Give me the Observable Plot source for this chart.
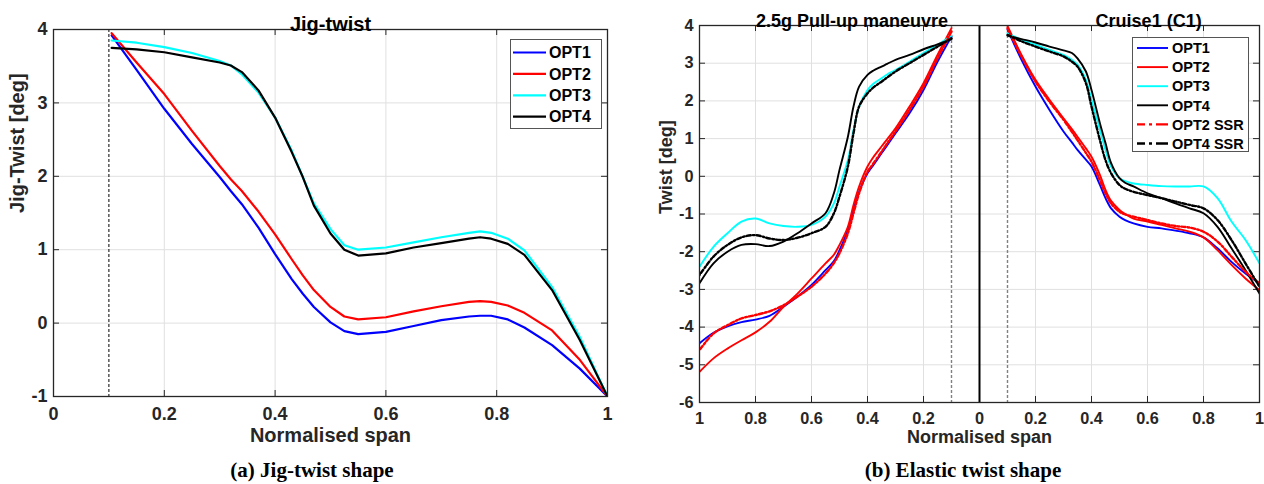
<!DOCTYPE html>
<html><head><meta charset="utf-8">
<script src="https://cdn.jsdelivr.net/npm/d3@7"></script>
<script src="https://cdn.jsdelivr.net/npm/@observablehq/plot@0.6"></script>
<style>
body{margin:0;background:#fff;}
#fig{position:relative;width:1264px;height:484px;overflow:hidden;background:#fff;font-family:"Liberation Sans",Arial,sans-serif;}
.panel{position:absolute;top:0;}
.panel svg{overflow:visible;max-width:none;}
.cap{position:absolute;font-family:"Liberation Serif","Times New Roman",serif;font-weight:bold;font-size:21px;transform:translate(-50%,-50%);white-space:nowrap;color:#000;}
.legend{position:absolute;background:#fff;border:1px solid #555;box-sizing:border-box;}
</style></head><body><div id="fig"></div>
<script>
// ---------- data ----------
const seriesNames = ["OPT1", "OPT2", "OPT3", "OPT4", "OPT2 SSR", "OPT4 SSR"];
const seriesColors = ["#0000ff", "#ff0000", "#00ffff", "#000000", "#ff0000", "#000000"];

// (a) Jig-twist
const spanJig = [0.105,0.15,0.2,0.25,0.3,0.32,0.34,0.37,0.4,0.43,0.45,0.47,0.5,0.525,0.55,0.6,0.65,0.7,0.75,0.77,0.79,0.82,0.85,0.9,0.95,1.0];
const jigOPT1 = [3.92,3.45,2.92,2.44,1.99,1.80,1.62,1.30,0.94,0.60,0.40,0.22,0.01,-0.11,-0.15,-0.12,-0.04,0.04,0.09,0.10,0.10,0.05,-0.06,-0.30,-0.62,-1.0];
const jigOPT2 = [3.95,3.55,3.12,2.62,2.14,1.96,1.80,1.52,1.21,0.87,0.65,0.45,0.22,0.09,0.05,0.08,0.16,0.23,0.29,0.30,0.29,0.24,0.14,-0.10,-0.50,-1.0];
const jigOPT3 = [3.85,3.82,3.76,3.68,3.57,3.51,3.39,3.14,2.80,2.35,1.99,1.63,1.28,1.06,1.00,1.03,1.10,1.17,1.23,1.25,1.23,1.15,0.99,0.49,-0.19,-1.0];
const jigOPT4 = [3.75,3.73,3.69,3.62,3.55,3.51,3.42,3.17,2.80,2.33,1.99,1.60,1.22,1.00,0.92,0.95,1.03,1.09,1.15,1.17,1.15,1.08,0.93,0.45,-0.23,-1.0];
const jigXTicks = [0, 0.2, 0.4, 0.6, 0.8, 1];
const jigYTicks = [-1, 0, 1, 2, 3, 4];
const jigRoot = [0.1];

// (b) Elastic twist
const spanElastic = [0.1,0.15,0.2,0.25,0.3,0.33,0.35,0.38,0.4,0.43,0.45,0.47,0.5,0.52,0.55,0.6,0.65,0.7,0.75,0.8,0.85,0.9,0.95,1.0];
// 2.5g pull-up manoeuvre
const manOPT1    = [3.71,3.04,2.29,1.67,1.14,0.82,0.61,0.29,0.08,-0.41,-0.89,-1.42,-1.96,-2.25,-2.49,-2.88,-3.19,-3.46,-3.70,-3.80,-3.87,-3.98,-4.15,-4.43];
const manOPT2    = [3.93,3.22,2.47,1.85,1.27,0.98,0.79,0.50,0.26,-0.27,-0.76,-1.34,-1.82,-2.08,-2.31,-2.71,-3.11,-3.46,-3.86,-4.14,-4.35,-4.57,-4.83,-5.19];
const manOPT3    = [3.73,3.49,3.27,3.04,2.82,2.70,2.60,2.45,2.29,1.85,1.23,0.43,-0.27,-0.72,-1.07,-1.29,-1.34,-1.32,-1.25,-1.12,-1.20,-1.51,-1.87,-2.40];
const manOPT4    = [3.64,3.50,3.37,3.22,3.09,2.98,2.91,2.80,2.69,2.38,1.85,1.05,0.17,-0.45,-0.98,-1.25,-1.51,-1.73,-1.85,-1.80,-1.82,-2.00,-2.31,-2.84];
const manOPT2SSR = [3.84,3.13,2.38,1.76,1.19,0.87,0.65,0.33,0.12,-0.45,-0.98,-1.51,-2.04,-2.30,-2.58,-2.93,-3.19,-3.42,-3.58,-3.68,-3.77,-3.95,-4.17,-4.61];
const manOPT4SSR = [3.66,3.44,3.22,3.00,2.78,2.62,2.51,2.35,2.20,1.85,1.14,0.26,-0.54,-0.98,-1.34,-1.51,-1.63,-1.69,-1.65,-1.56,-1.62,-1.82,-2.13,-2.62];
// Cruise1 (C1)
const cruOPT1    = [3.90,3.09,2.38,1.76,1.19,0.90,0.70,0.44,0.26,-0.23,-0.58,-0.85,-1.07,-1.16,-1.25,-1.34,-1.38,-1.44,-1.51,-1.62,-1.91,-2.27,-2.58,-2.84];
const cruOPT2    = [3.99,3.22,2.56,2.03,1.54,1.25,1.05,0.74,0.52,0.04,-0.36,-0.65,-0.89,-1.00,-1.12,-1.20,-1.29,-1.38,-1.47,-1.62,-1.96,-2.35,-2.71,-3.02];
const cruOPT3    = [3.80,3.62,3.49,3.35,3.22,3.09,2.96,2.56,2.03,1.23,0.70,0.26,-0.05,-0.13,-0.19,-0.23,-0.26,-0.27,-0.27,-0.27,-0.58,-1.20,-1.69,-2.31];
const cruOPT4    = [3.73,3.64,3.55,3.44,3.34,3.27,3.13,2.78,2.29,1.41,0.88,0.35,-0.05,-0.17,-0.27,-0.45,-0.58,-0.72,-0.85,-0.98,-1.34,-1.91,-2.49,-3.11];
const cruOPT2SSR = [3.93,3.18,2.51,1.98,1.50,1.18,0.96,0.62,0.39,-0.10,-0.45,-0.72,-0.94,-1.01,-1.07,-1.16,-1.25,-1.32,-1.36,-1.47,-1.73,-2.13,-2.53,-2.84];
const cruOPT4SSR = [3.75,3.58,3.44,3.31,3.18,3.04,2.91,2.47,1.85,0.96,0.43,0.08,-0.23,-0.33,-0.41,-0.50,-0.58,-0.67,-0.76,-0.85,-1.16,-1.69,-2.31,-2.93];
const elXTicks = [-1,-0.8,-0.6,-0.4,-0.2,0,0.2,0.4,0.6,0.8,1];
const elYTicks = [-6,-5,-4,-3,-2,-1,0,1,2,3,4];
const elRoot = [-0.1, 0.1];
const elCentre = [0];

// ---------- build rows ----------
const jigSeries = [jigOPT1, jigOPT2, jigOPT3, jigOPT4];
const jigRows = jigSeries.flatMap((vals, i) => vals.map((v, j) => ({s: seriesNames[i], span: spanJig[j], y: v})));
const manSeries = [manOPT1, manOPT2, manOPT3, manOPT4, manOPT2SSR, manOPT4SSR];
const cruSeries = [cruOPT1, cruOPT2, cruOPT3, cruOPT4, cruOPT2SSR, cruOPT4SSR];
const elRows = [
  ...manSeries.flatMap((vals, i) => vals.map((v, j) => ({s: seriesNames[i], side: "man", x: -spanElastic[j], y: v}))),
  ...cruSeries.flatMap((vals, i) => vals.map((v, j) => ({s: seriesNames[i], side: "cru", x: spanElastic[j], y: v})))
];
const isSSR = d => d.s.endsWith("SSR");

const fmtX = d => String(+Math.abs(d).toFixed(1));
const fmtY = d => String(d);
const AX = "#262626";
const GRID = "#e0e0e0";
const FONT = "Liberation Sans, Arial, sans-serif";

const fig = document.getElementById("fig");

// ---------- (a) ----------
{
  const W = 640, H = 455, mL = 53, mR = 33, mT = 29, mB = 59;
  const pw = W - mL - mR, ph = H - mT - mB, tk = 6;
  const txt = (size, extra) => ({fontFamily: FONT, fontSize: size, fontWeight: "bold", ...extra});
  const p = Plot.plot({
    width: W, height: H, marginLeft: mL, marginRight: mR, marginTop: mT, marginBottom: mB,
    style: {fontFamily: FONT, fontSize: "18px", fontWeight: "bold", background: "transparent", overflow: "visible"},
    x: {domain: [0, 1]},
    y: {domain: [-1, 4]},
    color: {domain: seriesNames, range: seriesColors},
    marks: [
      Plot.gridX(jigXTicks, {stroke: GRID, strokeOpacity: 1}),
      Plot.gridY(jigYTicks, {stroke: GRID, strokeOpacity: 1}),
      Plot.axisX(jigXTicks, txt(18, {tickSize: 0, tickPadding: 11, tickFormat: fmtX, label: null, fill: AX})),
      Plot.axisY(jigYTicks, txt(18, {tickSize: 0, tickPadding: 6, tickFormat: fmtY, label: null, fill: AX})),
      Plot.ruleX(jigXTicks, {insetTop: ph - tk, stroke: AX}),
      Plot.ruleX(jigXTicks, {insetBottom: ph - tk, stroke: AX}),
      Plot.ruleY(jigYTicks, {insetRight: pw - tk, stroke: AX}),
      Plot.ruleY(jigYTicks, {insetLeft: pw - tk, stroke: AX}),
      Plot.ruleX(jigRoot, {stroke: "#000", strokeWidth: 1, strokeDasharray: "3,2"}),
      Plot.line(jigRows, {x: "span", y: "y", z: "s", stroke: "s", strokeWidth: 2.2, curve: "linear", clip: true}),
      Plot.frame({stroke: AX, strokeWidth: 1.3}),
      Plot.text(["Jig-twist"], txt(20, {frameAnchor: "top", dy: -13, fill: "#000"})),
      Plot.text(["Normalised span"], txt(20, {frameAnchor: "bottom", dy: 45, fill: AX})),
      Plot.text(["Jig-Twist [deg]"], txt(20, {frameAnchor: "left", dx: -36, rotate: -90, fill: AX}))
    ]
  });
  const d = document.createElement("div");
  d.className = "panel"; d.style.left = "0px"; d.style.width = W + "px";
  d.appendChild(p); fig.appendChild(d);
}

// ---------- (b) ----------
{
  const W = 624, H = 455, mL = 59, mR = 5, mT = 25, mB = 53;
  const pw = W - mL - mR, ph = H - mT - mB, tk = 6;
  const txt = (size, extra) => ({fontFamily: FONT, fontSize: size, fontWeight: "bold", ...extra});
  const p = Plot.plot({
    width: W, height: H, marginLeft: mL, marginRight: mR, marginTop: mT, marginBottom: mB,
    style: {fontFamily: FONT, fontSize: "16px", fontWeight: "bold", background: "transparent", overflow: "visible"},
    x: {domain: [-1, 1]},
    y: {domain: [-6, 4]},
    color: {domain: seriesNames, range: seriesColors},
    marks: [
      Plot.gridX(elXTicks, {stroke: GRID, strokeOpacity: 1}),
      Plot.gridY(elYTicks, {stroke: GRID, strokeOpacity: 1}),
      Plot.axisX(elXTicks, txt(16.3, {tickSize: 0, tickPadding: 10, tickFormat: fmtX, label: null, fill: AX})),
      Plot.axisY(elYTicks, txt(16.3, {tickSize: 0, tickPadding: 6, tickFormat: fmtY, label: null, fill: AX})),
      Plot.ruleX(elXTicks, {insetTop: ph - tk, stroke: AX}),
      Plot.ruleX(elXTicks, {insetBottom: ph - tk, stroke: AX}),
      Plot.ruleY(elYTicks, {insetRight: pw - tk, stroke: AX}),
      Plot.ruleY(elYTicks, {insetLeft: pw - tk, stroke: AX}),
      Plot.ruleX(elRoot, {stroke: "#808080", strokeWidth: 1.4, strokeDasharray: "3,2"}),
      Plot.ruleX(elCentre, {stroke: "#000", strokeWidth: 2}),
      Plot.line(elRows.filter(d => !isSSR(d)), {x: "x", y: "y", z: d => d.s + d.side, stroke: "s", strokeWidth: 1.9, curve: "catmull-rom", clip: true}),
      Plot.line(elRows.filter(isSSR), {x: "x", y: "y", z: d => d.s + d.side, stroke: "s", strokeWidth: 2.4, strokeDasharray: "4,2.2,1.6,2.2", curve: "catmull-rom", clip: true}),
      Plot.frame({stroke: AX, strokeWidth: 1.3}),
      Plot.text(["2.5g Pull-up maneuvre"], txt(18, {x: () => -0.455, frameAnchor: "top", dy: -11, fill: "#000"})),
      Plot.text(["Cruise1 (C1)"], txt(18, {x: () => 0.604, frameAnchor: "top", dy: -11, fill: "#000"})),
      Plot.text(["Normalised span"], txt(18, {frameAnchor: "bottom", dy: 40, fill: AX})),
      Plot.text(["Twist [deg]"], txt(18, {frameAnchor: "left", dx: -33, rotate: -90, fill: AX}))
    ]
  });
  const d = document.createElement("div");
  d.className = "panel"; d.style.left = "640px"; d.style.width = W + "px";
  d.appendChild(p); fig.appendChild(d);
}

// ---------- legends ----------
function legend(left, top, w, h, count, fontSize, row0, gap, lx1, lx2, tx, lw) {
  const box = document.createElement("div");
  box.className = "legend";
  Object.assign(box.style, {left: left + "px", top: top + "px", width: w + "px", height: h + "px"});
  const ns = "http://www.w3.org/2000/svg";
  const svg = document.createElementNS(ns, "svg");
  svg.setAttribute("width", w - 2); svg.setAttribute("height", h - 2);
  svg.style.position = "absolute"; svg.style.left = "0"; svg.style.top = "0";
  for (let i = 0; i < count; i++) {
    const y = row0 + i * gap;
    const ln = document.createElementNS(ns, "line");
    ln.setAttribute("x1", lx1); ln.setAttribute("x2", lx2); ln.setAttribute("y1", y); ln.setAttribute("y2", y);
    ln.setAttribute("stroke", seriesColors[i]);
    if (seriesNames[i].endsWith("SSR")) {
      ln.setAttribute("stroke-dasharray", "8,4,3,4,12");
      ln.setAttribute("stroke-width", lw + 0.5);
    } else {
      ln.setAttribute("stroke-width", lw);
    }
    svg.appendChild(ln);
    const t = document.createElementNS(ns, "text");
    t.setAttribute("x", tx); t.setAttribute("y", y); t.setAttribute("dy", "0.36em");
    t.setAttribute("font-family", FONT);
    t.setAttribute("font-weight", "bold"); t.setAttribute("font-size", fontSize);
    t.setAttribute("fill", "#000");
    t.textContent = seriesNames[i];
    svg.appendChild(t);
  }
  box.appendChild(svg);
  fig.appendChild(box);
}
legend(510, 39, 92, 90, 4, 16, 12.5, 21.4, 2, 35, 38, 2.2);
legend(1132, 37, 117, 115, 6, 14.5, 10, 19.1, 4, 35, 39, 1.9);

// ---------- captions ----------
function caption(text, cx, cy) {
  const c = document.createElement("div");
  c.className = "cap"; c.textContent = text;
  c.style.left = cx + "px"; c.style.top = cy + "px";
  fig.appendChild(c);
}
caption("(a) Jig-twist shape", 312, 470);
caption("(b) Elastic twist shape", 963, 470);
</script></body></html>
